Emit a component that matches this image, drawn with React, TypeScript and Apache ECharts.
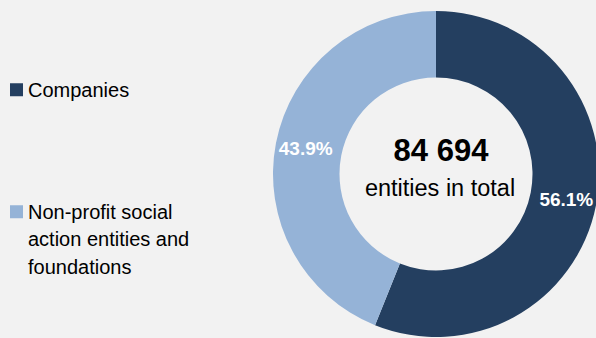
import React, { useEffect, useRef } from "react";
import * as echarts from "echarts";

const categories = ["Companies", "Non-profit social action entities and foundations"];
const legendLabels = ["Companies", "\n\nNon-profit social\naction entities and\nfoundations"];
const values = [47513, 37181];
const colors = ["#243F60", "#95B3D7"];
const totalLabel = "84 694";
const totalSubLabel = "entities in total";

const FONT = "'Liberation Sans', Arial, Helvetica, sans-serif";

export default function App() {
  const ref = useRef<HTMLDivElement>(null);
  useEffect(() => {
    if (!ref.current) return;
    const chart = echarts.init(ref.current, null, { renderer: "svg" });
    const total = values.reduce((a, b) => a + b, 0);
    chart.setOption({
      animation: false,
      backgroundColor: "#F2F2F2",
      color: colors,
      legend: {
        orient: "vertical",
        left: 10,
        top: 76,
        padding: 0,
        itemWidth: 13,
        itemHeight: 13,
        itemGap: 39.5,
        icon: "rect",
        selectedMode: false,
        data: categories,
        formatter: (name: string) => legendLabels[categories.indexOf(name)],
        textStyle: {
          fontFamily: FONT,
          fontSize: 20,
          lineHeight: 27.5,
          color: "#000000",
        },
      },
      graphic: [
        {
          type: "text",
          x: 441,
          y: 150,
          style: {
            text: totalLabel,
            fontFamily: FONT,
            fontWeight: "bold",
            fontSize: 31,
            fill: "#000000",
            textAlign: "center",
            textVerticalAlign: "middle",
          },
        },
        {
          type: "text",
          x: 440,
          y: 188,
          style: {
            text: totalSubLabel,
            fontFamily: FONT,
            fontSize: 23.5,
            fill: "#000000",
            textAlign: "center",
            textVerticalAlign: "middle",
          },
        },
      ],
      series: [
        {
          type: "pie",
          center: [436, 174],
          radius: [96.5, 163],
          startAngle: 90,
          clockwise: true,
          avoidLabelOverlap: false,
          label: {
            show: true,
            position: "inside",
            color: "#FFFFFF",
            fontFamily: FONT,
            fontWeight: "bold",
            fontSize: 19,
            formatter: (p: any) => ((p.value / total) * 100).toFixed(1) + "%",
          },
          labelLine: { show: false },
          itemStyle: { borderWidth: 0 },
          emphasis: { disabled: true },
          data: categories.map((name, i) => ({ name, value: values[i] })),
        },
      ],
    });
    return () => chart.dispose();
  }, []);
  return (
    <div
      ref={ref}
      style={{ position: "fixed", left: 0, top: 0, width: 596, height: 338 }}
    />
  );
}
